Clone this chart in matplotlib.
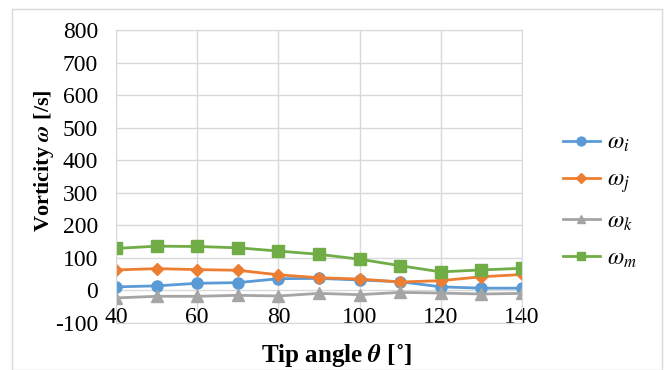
import matplotlib.pyplot as plt
from matplotlib.patches import Rectangle

plt.rcParams['font.family'] = ['Liberation Serif', 'DejaVu Serif']
plt.rcParams['mathtext.fontset'] = 'stix'
plt.rcParams['axes.unicode_minus'] = False

# tip angle (deg)
theta = [40, 50, 60, 70, 80, 90, 100, 110, 120, 130, 140]

# vorticity components [/s]
w_i = [11, 14, 22, 24, 36, 37, 32, 27, 11, 7, 7]
w_j = [63, 67, 64, 62, 48, 39, 35, 26, 30, 42, 49]
w_k = [-23, -18, -18, -15, -17, -9, -13, -6, -8, -11, -9]
w_m = [129, 136, 135, 131, 121, 111, 96, 76, 57, 63, 68]

W, H = 666, 370
fig = plt.figure(figsize=(W / 100, H / 100), dpi=100)
ax = fig.add_axes([116 / W, 1 - 323 / H, 406 / W, 293 / H])

ax.plot(theta, w_i, color='#5B9BD5', lw=2, marker='o', ms=8, label=r'$\omega_i$')
ax.plot(theta, w_j, color='#ED7D31', lw=2, marker='D', ms=6.5, label=r'$\omega_j$')
ax.plot(theta, w_k, color='#A5A5A5', lw=2, marker='^', ms=8, label=r'$\omega_k$')
ax.plot(theta, w_m, color='#70AD47', lw=2, marker='s', ms=8, label=r'$\omega_m$')

ax.set_xlim(40, 140)
ax.set_ylim(-100, 800)
ax.set_xticks(range(40, 141, 20))
ax.set_yticks(range(-100, 801, 100))
ax.grid(True, color='#D9D9D9', lw=1)
ax.set_axisbelow(True)
for s in ax.spines.values():
    s.set_color('#D9D9D9')
ax.tick_params(length=0, labelsize=17)
ax.tick_params(axis='y', pad=13)
ax.tick_params(axis='x', pad=-11.2)
for lab in ax.get_xticklabels():
    lab.set_zorder(5)

fig.text(44 / W, 1 - 161 / H, r'Vorticity $\boldsymbol{\omega}$ [/s]', rotation=90,
         ha='center', va='center', fontsize=16, fontweight='bold')
fig.text(336 / W, 1 - 362 / H, r'Tip angle $\boldsymbol{\theta}$ [˚]',
         ha='center', va='baseline', fontsize=18, fontweight='bold')

ax.legend(loc='center left', bbox_to_anchor=(563 / W, 1 - 201 / H),
          bbox_transform=fig.transFigure, frameon=False, fontsize=17,
          borderpad=0, borderaxespad=0, handlelength=1.55, handletextpad=0.3,
          labelspacing=0.65, markerscale=0.8)

fig.patches.append(Rectangle((12 / W, 0), 650 / W, 1 - 9 / H, transform=fig.transFigure,
                             fill=False, edgecolor='#D9D9D9', lw=1))

fig.savefig('out.png', dpi=100)
